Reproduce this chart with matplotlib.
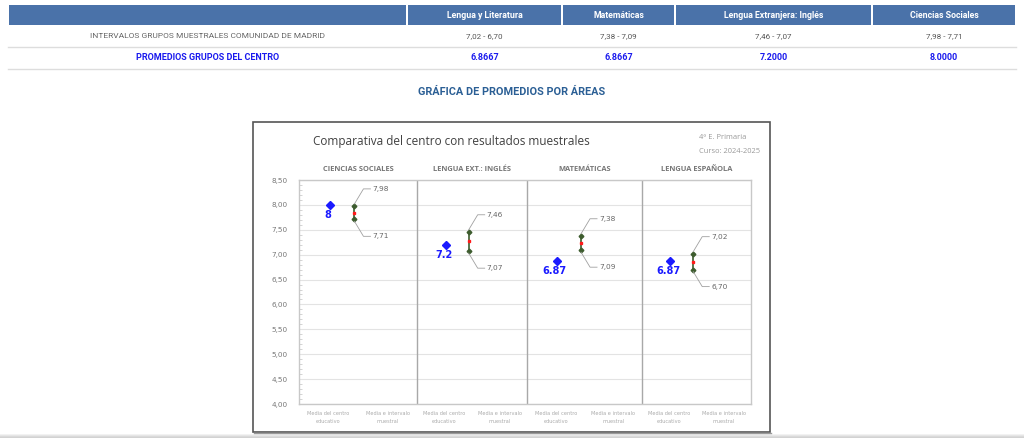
import numpy as np
import matplotlib
matplotlib.use("Agg")
import matplotlib.pyplot as plt
from matplotlib.patches import Rectangle

# --- data ---
table_cols = ["Lengua y Literatura", "Matemáticas", "Lengua Extranjera: Inglés", "Ciencias Sociales"]
intervalos = ["7,02 - 6,70", "7,38 - 7,09", "7,46 - 7,07", "7,98 - 7,71"]
promedios = [6.8667, 6.8667, 7.2000, 8.0000]

areas = ["CIENCIAS SOCIALES", "LENGUA EXT.: INGLÉS", "MATEMÁTICAS", "LENGUA ESPAÑOLA"]
media_centro = [8.0, 7.2, 6.8667, 6.8667]
int_alto = [7.98, 7.46, 7.38, 7.02]
int_bajo = [7.71, 7.07, 7.09, 6.70]
cat_labels = ["Media del centro\neducativo", "Media e intervalo\nmuestral"]
yticks = [4.0, 4.5, 5.0, 5.5, 6.0, 6.5, 7.0, 7.5, 8.0, 8.5]

W, H = 1024, 438
fig = plt.figure(figsize=(W / 100, H / 100), dpi=100)
fig.patch.set_facecolor("white")

# overlay axes in pixel coordinates for the table and the frame
bg = fig.add_axes([0, 0, 1, 1])
bg.set_xlim(0, W)
bg.set_ylim(H, 0)
bg.axis("off")

FONT = "Roboto"
head_blue = "#4a72a9"
col_edges = [8, 407, 562, 675, 872, 1016]

# header row
for i in range(len(col_edges) - 1):
    x0, x1 = col_edges[i] + 1, col_edges[i + 1] - 1
    bg.add_patch(Rectangle((x0, 5), x1 - x0, 20, color=head_blue, lw=0))
for i, c in enumerate(table_cols):
    xc = (col_edges[i + 1] + col_edges[i + 2]) / 2
    bg.text(xc, 15.5, c, ha="center", va="center", color="white",
            fontsize=6.3, fontweight="bold", family=FONT)

row_label_x = (col_edges[0] + col_edges[1]) / 2
bg.text(row_label_x, 36, "INTERVALOS GRUPOS MUESTRALES COMUNIDAD DE MADRID",
        ha="center", va="center", color="#666666", fontsize=6.0, family=FONT)
bg.text(row_label_x, 57.5, "PROMEDIOS GRUPOS DEL CENTRO",
        ha="center", va="center", color="#1a1aee", fontsize=6.5, fontweight="bold", family=FONT)
for i in range(4):
    xc = (col_edges[i + 1] + col_edges[i + 2]) / 2
    bg.text(xc, 36, intervalos[i], ha="center", va="center", color="#555555",
            fontsize=5.8, family=FONT)
    bg.text(xc, 57.5, f"{promedios[i]:.4f}", ha="center", va="center", color="#1a1aee",
            fontsize=6.5, fontweight="bold", family=FONT)
for yl in (46.5, 68.5):
    bg.plot([col_edges[0], col_edges[-1]], [yl, yl], color="#dddddd", lw=1)

bg.text(512, 92, "GRÁFICA DE PROMEDIOS POR ÁREAS", ha="center", va="center",
        color="#2b5f95", fontsize=7.8, fontweight="bold", family=FONT)

# bottom grey strip
for k, c in enumerate(["#f2f2f2", "#e6e6e6", "#dadada", "#d2d2d2", "#cccccc"]):
    bg.add_patch(Rectangle((0, 433.5 + k), W, 1.2, color=c, lw=0))

# chart frame
bg.add_patch(Rectangle((253, 122), 517, 310, facecolor="white", edgecolor="#555555", lw=1.2))
bg.plot([254, 771], [433.2, 433.2], color="#999999", lw=1)
bg.text(313, 142, "Comparativa del centro con resultados muestrales", ha="left", va="center",
        color="#404040", fontsize=8.5, family="Open Sans")
bg.text(699, 137.5, "4º E. Primaria", ha="left", va="center", color="#999999",
        fontsize=5.4, family="Open Sans")
bg.text(699, 151.5, "Curso: 2024-2025", ha="left", va="center", color="#999999",
        fontsize=5.4, family="Open Sans")

# --- plot area ---
px_left, px_right, px_top, px_bot = 299, 751, 180, 404
ax = fig.add_axes([px_left / W, (H - px_bot) / H, (px_right - px_left) / W, (px_bot - px_top) / H])
ax.set_facecolor("none")
panel_edges = [0, 118, 228, 343, 452]
ax.set_xlim(0, 452)
ax.set_ylim(4.0, 8.5)
ax.set_yticks(yticks)
ax.set_yticklabels([f"{v:.2f}".replace(".", ",") for v in yticks])
ax.set_yticks(np.arange(4.0, 8.51, 0.1), minor=True)
ax.tick_params(axis="y", which="major", length=0, labelsize=5.2, labelcolor="#777777", pad=8)
ax.tick_params(axis="y", which="minor", direction="in", length=2.5, color="#cccccc", width=0.6)
ax.grid(axis="y", color="#e3e3e3", lw=0.8)
ax.set_axisbelow(True)
for s in ax.spines.values():
    s.set_color("#c8c8c8")
    s.set_linewidth(1)

xt, xl = [], []
for i in range(4):
    a, b = panel_edges[i], panel_edges[i + 1]
    xt += [a + 0.25 * (b - a), a + 0.75 * (b - a)]
    xl += cat_labels
ax.set_xticks(xt)
ax.set_xticklabels(xl, fontsize=3.6, color="#aaaaaa", linespacing=1.7)
ax.tick_params(axis="x", length=0, pad=5)

for e in panel_edges[1:-1]:
    ax.axvline(e, color="#a8a8a8", lw=1)

yscale = (px_bot - px_top) / 4.5  # px per unit
for i in range(4):
    a, b = panel_edges[i], panel_edges[i + 1]
    xm = a + 0.26 * (b - a)
    xe = a + 0.47 * (b - a)
    # centro mean
    ax.plot(xm, media_centro[i], marker="D", ms=3.6, color="#1a1aff", mec="#1a1aff")
    ax.text(xm - 2, media_centro[i] - 10 / yscale, f"{media_centro[i]:.3g}", ha="center", va="center",
            color="#1a1aff", fontsize=7, fontweight="bold", family="DejaVu Sans")
    # sample interval
    ax.plot([xe, xe], [int_bajo[i], int_alto[i]], color="#3d5c2e", lw=1.2)
    ax.plot([xe, xe], [int_bajo[i], int_alto[i]], ls="none", marker="D", ms=2.4, color="#3d5c2e")
    ax.plot(xe, (int_bajo[i] + int_alto[i]) / 2, marker="s", ms=1.8, color="#ff1a1a", mec="#ff1a1a")
    # leader labels
    for v, sgn in ((int_alto[i], 1), (int_bajo[i], -1)):
        yl = v + sgn * 17 / yscale
        ax.plot([xe, xe + 9, xe + 16], [v + sgn * 2 / yscale, yl, yl], color="#a0a0a0", lw=0.6)
        ax.text(xe + 18, yl, f"{v:.2f}".replace(".", ","), ha="left", va="center",
                color="#666666", fontsize=5.3, family="DejaVu Sans")
    ax.text((a + b) / 2, 8.5 + 11 / yscale, areas[i], ha="center", va="center",
            color="#777777", fontsize=5.4, fontweight="bold", family="Open Sans", clip_on=False)

fig.savefig("out.png", dpi=100, facecolor="white")
